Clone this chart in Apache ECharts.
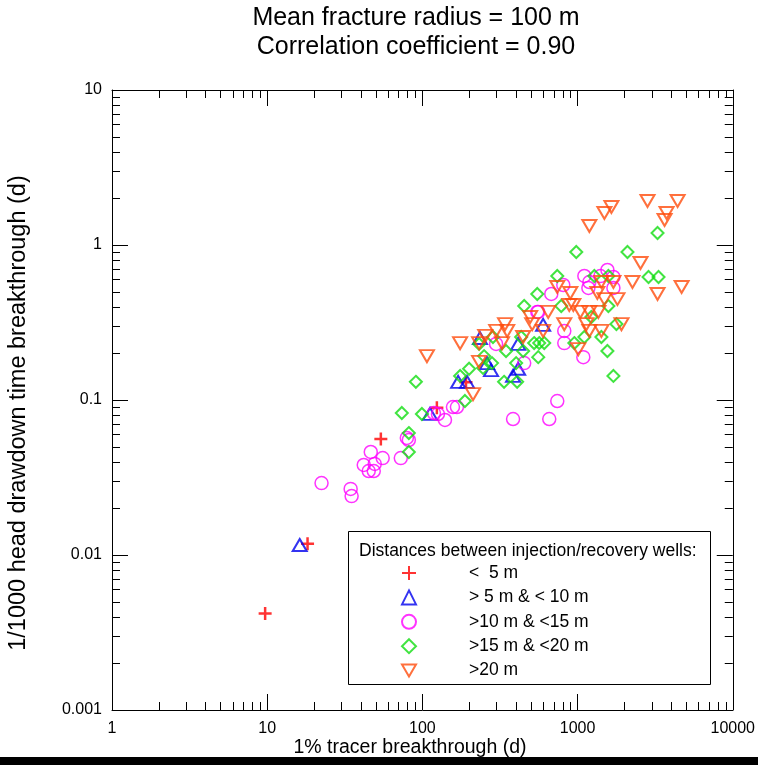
<!DOCTYPE html>
<html>
<head>
<meta charset="utf-8">
<script src="https://cdn.jsdelivr.net/npm/echarts@6/dist/echarts.min.js"></script>
<style>html,body{margin:0;padding:0;background:#fff;}#c{width:758px;height:765px;}</style>
</head>
<body>
<div id="c"></div>
<script>
// ---- data (x = 1% tracer breakthrough (d), y = 1/1000 head drawdown time breakthrough (d)) ----
const titleLines = ['Mean fracture radius = 100 m', 'Correlation coefficient = 0.90'];
const xName = '1% tracer breakthrough (d)';
const yName = '1/1000 head drawdown time breakthrough (d)';
const legendTitle = 'Distances between injection/recovery wells:';
const seriesNames = ['<  5 m', '> 5 m & < 10 m', '>10 m & <15 m', '>15 m & <20 m', '>20 m'];
const xTicks = [1, 10, 100, 1000, 10000];
const yTicks = [0.001, 0.01, 0.1, 1, 10];

const lt5 = [[9.7,0.0042],[18.2,0.0118],[54,0.056],[124,0.089],[191,0.13]];
const d5to10 = [[16.2,0.0116],[112,0.0813],[170,0.131],[194,0.131],[261,0.173],[277,0.156],
  [235,0.251],[414,0.230],[384,0.143],[414,0.159],[600,0.305]];
const d10to15 = [[22.4,0.0291],[34.5,0.0267],[35.0,0.0240],[41.9,0.0381],[46.5,0.0462],[49.3,0.0387],
  [45.1,0.0348],[48.6,0.0348],[55.5,0.0422],[72.6,0.0422],[79.4,0.0569],[81.8,0.0552],[118.7,0.0824],
  [126,0.0812],[139.8,0.0743],[157.4,0.0901],[167,0.0901],[298.5,0.230],[384,0.0754],[657,0.0754],
  [740,0.0985],[453,0.173],[550,0.370],[558,0.370],[677,0.483],[809,0.552],[821,0.279],[821,0.233],
  [1089,0.189],[1106,0.631],[1191,0.577],[1174,0.528],[1403,0.63],[1557,0.690],[1702,0.622],[1702,0.528]];
const d15to20 = [[73.7,0.0824],[99.3,0.0812],[81.8,0.0612],[81.8,0.0462],[90.8,0.131],[175,0.143],
  [200,0.159],[188,0.0985],[250,0.192],[281,0.173],[246,0.161],[285,0.255],[232,0.230],[346,0.207],
  [446,0.207],[336,0.131],[408,0.131],[402,0.173],[433,0.255],[453,0.404],[550,0.483],[525,0.233],
  [566,0.233],[610,0.233],[558,0.189],[740,0.631],[785,0.404],[981,0.901],[1106,0.255],[953,0.233],
  [1227,0.343],[1283,0.631],[1580,0.631],[1580,0.404],[1424,0.255],[1557,0.207],[1702,0.143],
  [1780,0.309],[2097,0.901],[2866,0.622],[3325,0.622],[3276,1.195]];
const gt20 = [[107,0.192],[175,0.233],[212,0.109],[232,0.233],[232,0.176],[254,0.259],[299,0.279],
  [341,0.309],[352,0.279],[326,0.233],[446,0.255],[495,0.343],[510,0.309],[600,0.279],[647,0.370],
  [821,0.309],[740,0.536],[884,0.410],[939,0.410],[898,0.490],[1011,0.213],[1042,0.370],[1139,0.309],
  [1191,0.370],[1191,0.279],[1362,0.370],[1424,0.279],[1341,0.490],[1489,0.448],[1424,0.577],
  [1702,0.577],[1807,0.448],[1918,0.309],[1191,1.326],[1489,1.609],[1652,1.759],[2258,0.577],
  [2544,0.765],[3276,0.483],[2823,1.922],[3746,1.609],[3636,1.45],[4412,1.922],[4682,0.536]];

// minor tick positions (2..9 within each decade)
const xMinor = [], yMinor = [];
for (let k = 0; k < 4; k++) for (let m = 2; m <= 9; m++) xMinor.push([m * Math.pow(10, k), 1]);
for (let k = -3; k < 1; k++) for (let m = 2; m <= 9; m++) yMinor.push([1, +(m * Math.pow(10, k)).toPrecision(6)]);

const FONT = '"Liberation Sans", Arial, sans-serif';
const fmt = v => String(+(+v).toPrecision(6));

const chart = echarts.init(document.getElementById('c'), null, {renderer: 'canvas'});

function axisCommon(showLabel) {
  return {
    type: 'log', logBase: 10,
    axisLine: {show: true, lineStyle: {color: '#000', width: 1}},
    axisTick: {show: true, inside: true, length: 16, lineStyle: {color: '#000', width: 1}},
    axisLabel: {show: showLabel, color: '#000', fontSize: 16, fontFamily: FONT, formatter: fmt},
    splitLine: {show: false},
    minorTick: {show: false}
  };
}

const MAJ = 8;
const option = {
  animation: false,
  backgroundColor: '#fff',
  grid: {left: 112, right: 25, top: 90, bottom: 55, containLabel: false},
  xAxis: [
    Object.assign(axisCommon(true), {min: 1, max: 10000, position: 'bottom', axisLabel: {show: true, color: '#000', fontSize: 16, fontFamily: FONT, formatter: fmt, margin: 11}}),
    Object.assign(axisCommon(false), {min: 1, max: 10000, position: 'top'})
  ],
  yAxis: [
    Object.assign(axisCommon(true), {min: 0.001, max: 10, position: 'left', axisLabel: {show: true, color: '#000', fontSize: 16, fontFamily: FONT, formatter: fmt, margin: 10}}),
    Object.assign(axisCommon(false), {min: 0.001, max: 10, position: 'right'})
  ],
  legend: {
    data: seriesNames,
    orient: 'vertical', left: 401, top: 564, padding: 0,
    itemWidth: 14, itemHeight: 14, itemGap: 6.4,
    symbolKeepAspect: true,
    selectedMode: false,
    textStyle: {color: '#000', fontSize: 17.5, fontFamily: FONT, padding: [0, 0, 0, 48]},
    z: 10
  },
  graphic: [
    {type: 'text', x: 416, y: 18, style: {text: titleLines[0], font: '25px ' + FONT, fill: '#000', textAlign: 'center', textVerticalAlign: 'middle'}},
    {type: 'text', x: 416, y: 47, style: {text: titleLines[1], font: '25px ' + FONT, fill: '#000', textAlign: 'center', textVerticalAlign: 'middle'}},
    {type: 'text', x: 410, y: 748, style: {text: xName, font: '19.5px ' + FONT, fill: '#000', textAlign: 'center', textVerticalAlign: 'middle'}},
    {type: 'text', x: 19, y: 413, rotation: Math.PI / 2, style: {text: yName, font: '23.5px ' + FONT, fill: '#000', textAlign: 'center', textVerticalAlign: 'middle'}},
    {type: 'rect', z: 5, shape: {x: 348.5, y: 531.5, width: 362, height: 153}, style: {fill: '#fff', stroke: '#000', lineWidth: 1}},
    {type: 'text', z: 6, x: 359, y: 551, style: {text: legendTitle, font: '17.5px ' + FONT, fill: '#000', textAlign: 'left', textVerticalAlign: 'middle'}},
    {type: 'rect', shape: {x: 0, y: 757, width: 758, height: 8}, style: {fill: '#000'}}
  ],
  series: [
    {name: seriesNames[0], type: 'scatter', data: lt5, symbol: 'path://M0,6 L12,6 M6,0 L6,12', symbolSize: 13,
      itemStyle: {color: 'rgba(0,0,0,0)', borderColor: '#ff0000', borderWidth: 2.5}, z: 3},
    {name: seriesNames[1], type: 'scatter', data: d5to10, symbol: 'triangle', symbolSize: [14, 12],
      itemStyle: {color: 'rgba(0,0,0,0)', borderColor: '#0000ee', borderWidth: 2}, z: 3},
    {name: seriesNames[2], type: 'scatter', data: d10to15, symbol: 'circle', symbolSize: 13,
      itemStyle: {color: 'rgba(0,0,0,0)', borderColor: '#ff00ff', borderWidth: 1.5}, z: 3},
    {name: seriesNames[3], type: 'scatter', data: d15to20, symbol: 'diamond', symbolSize: 12,
      itemStyle: {color: 'rgba(0,0,0,0)', borderColor: '#11dd11', borderWidth: 2}, z: 3},
    {name: seriesNames[4], type: 'scatter', data: gt20, symbol: 'path://M0,0 L14,0 L7,12 Z', symbolSize: [14, 12],
      itemStyle: {color: 'rgba(0,0,0,0)', borderColor: '#ff4c0c', borderWidth: 2}, z: 3},
    {name: 'xminor', type: 'custom', data: xMinor, silent: true, clip: false, z: 2,
      renderItem: function (params, api) {
        const v = api.value(0);
        const b = api.coord([v, 0.001]), t = api.coord([v, 10]);
        const x = Math.round(b[0]) + 0.5;
        return {type: 'group', children: [
          {type: 'line', shape: {x1: x, y1: b[1], x2: x, y2: b[1] - MAJ}, style: {stroke: '#000', lineWidth: 1}},
          {type: 'line', shape: {x1: x, y1: t[1], x2: x, y2: t[1] + MAJ}, style: {stroke: '#000', lineWidth: 1}}
        ]};
      }},
    {name: 'yminor', type: 'custom', data: yMinor, silent: true, clip: false, z: 2,
      renderItem: function (params, api) {
        const v = api.value(1);
        const l = api.coord([1, v]), r = api.coord([10000, v]);
        const y = Math.round(l[1]) + 0.5;
        return {type: 'group', children: [
          {type: 'line', shape: {x1: l[0], y1: y, x2: l[0] + MAJ, y2: y}, style: {stroke: '#000', lineWidth: 1}},
          {type: 'line', shape: {x1: r[0], y1: y, x2: r[0] - MAJ, y2: y}, style: {stroke: '#000', lineWidth: 1}}
        ]};
      }}
  ]
};
chart.setOption(option);
</script>
</body>
</html>
